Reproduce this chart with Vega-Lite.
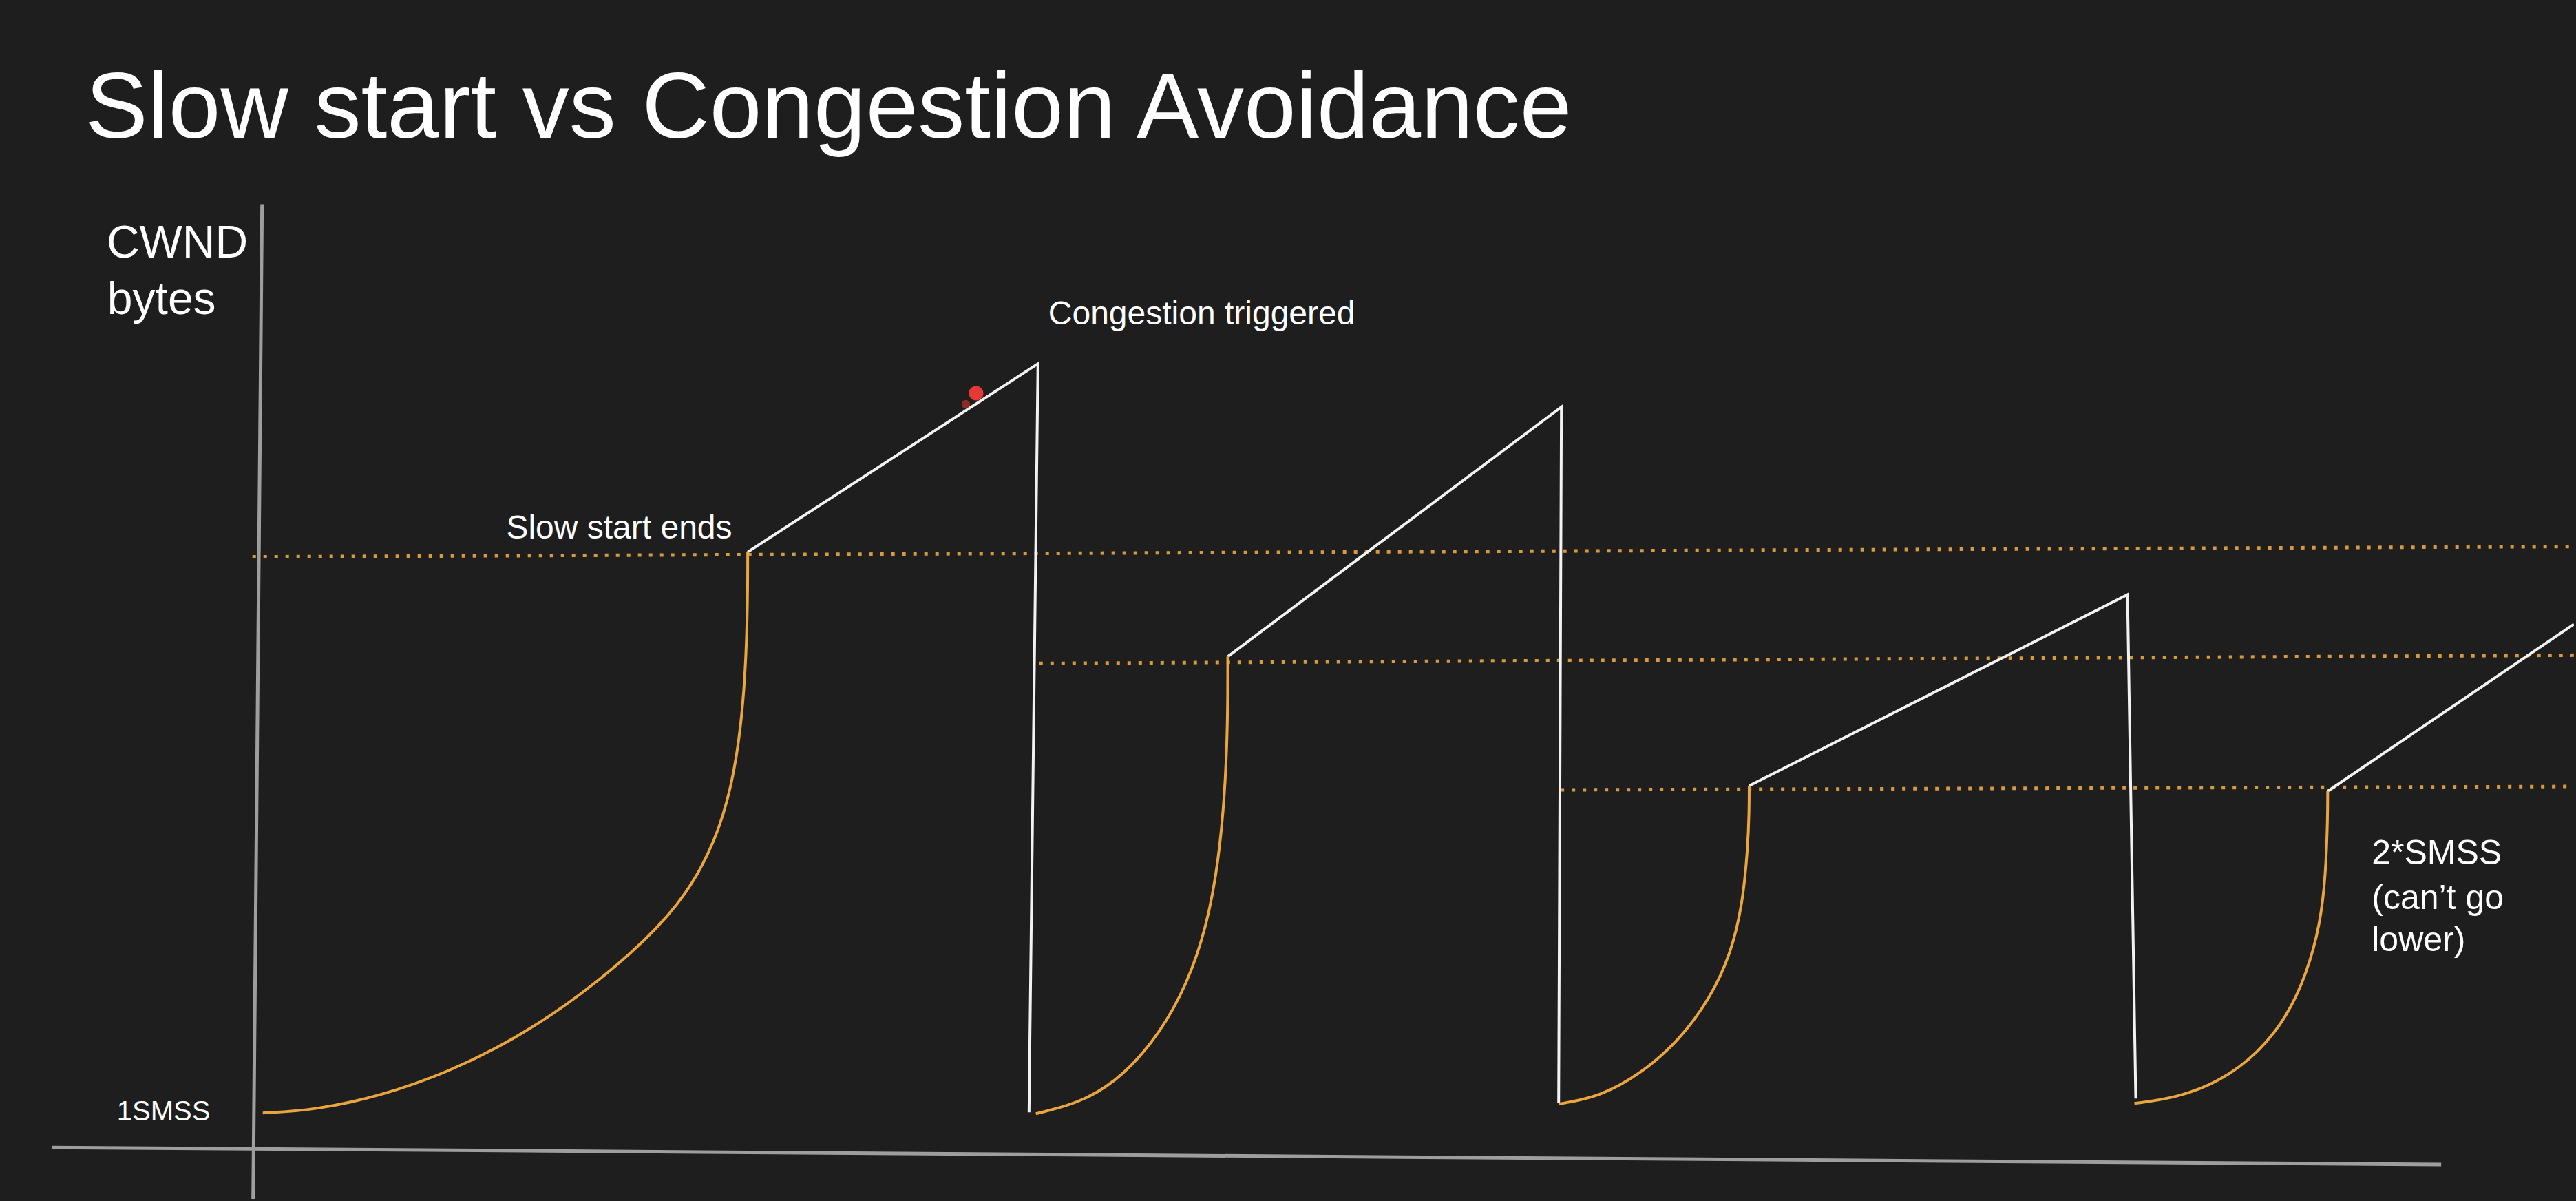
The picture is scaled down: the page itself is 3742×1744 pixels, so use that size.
{
  "$schema": "https://vega.github.io/schema/vega-lite/v6.json",
  "autosize": {"type": "fit", "contains": "padding"},
  "width": 3742,
  "height": 1744,
  "padding": 0,
  "background": "#1e1e1e",
  "config": {"view": {"stroke": null}},
  "datasets": {
    "axes": [
      {"axis": "y", "t": 381, "cwnd": 1447, "t2": 368, "cwnd2": 0},
      {"axis": "x", "t": 76, "cwnd": 75, "t2": 3549, "cwnd2": 50}
    ],
    "thresholds": [
      {"name": "ssthresh1", "t": 367, "cwnd": 934, "t2": 3742, "cwnd2": 949},
      {"name": "ssthresh2", "t": 1511, "cwnd": 779, "t2": 3742, "cwnd2": 791},
      {"name": "ssthresh3", "t": 2269, "cwnd": 595, "t2": 3742, "cwnd2": 600}
    ],
    "avoidance": [
      {"seg": "ca1", "i": 0, "t": 1087, "cwnd": 941},
      {"seg": "ca1", "i": 1, "t": 1509, "cwnd": 1215},
      {"seg": "ca1", "i": 2, "t": 1496, "cwnd": 126},
      {"seg": "ca2", "i": 0, "t": 1785, "cwnd": 789},
      {"seg": "ca2", "i": 1, "t": 2270, "cwnd": 1152},
      {"seg": "ca2", "i": 2, "t": 2266, "cwnd": 140},
      {"seg": "ca3", "i": 0, "t": 2543, "cwnd": 601},
      {"seg": "ca3", "i": 1, "t": 3093, "cwnd": 879},
      {"seg": "ca3", "i": 2, "t": 3105, "cwnd": 146},
      {"seg": "ca4", "i": 0, "t": 3384, "cwnd": 593},
      {"seg": "ca4", "i": 1, "t": 3742, "cwnd": 836}
    ],
    "slowstart": [
      {"seg": "ss1", "i": 0, "t": 382, "cwnd": 125},
      {"seg": "ss1", "i": 1, "t": 457, "cwnd": 129},
      {"seg": "ss1", "i": 2, "t": 554, "cwnd": 150},
      {"seg": "ss1", "i": 3, "t": 651, "cwnd": 184},
      {"seg": "ss1", "i": 4, "t": 748, "cwnd": 232},
      {"seg": "ss1", "i": 5, "t": 845, "cwnd": 296},
      {"seg": "ss1", "i": 6, "t": 942, "cwnd": 378},
      {"seg": "ss1", "i": 7, "t": 1000, "cwnd": 445},
      {"seg": "ss1", "i": 8, "t": 1040, "cwnd": 520},
      {"seg": "ss1", "i": 9, "t": 1064, "cwnd": 600},
      {"seg": "ss1", "i": 10, "t": 1078, "cwnd": 690},
      {"seg": "ss1", "i": 11, "t": 1085, "cwnd": 790},
      {"seg": "ss1", "i": 12, "t": 1087, "cwnd": 880},
      {"seg": "ss1", "i": 13, "t": 1087, "cwnd": 941},
      {"seg": "ss2", "i": 0, "t": 1506, "cwnd": 124},
      {"seg": "ss2", "i": 1, "t": 1567, "cwnd": 139},
      {"seg": "ss2", "i": 2, "t": 1621, "cwnd": 169},
      {"seg": "ss2", "i": 3, "t": 1674, "cwnd": 224},
      {"seg": "ss2", "i": 4, "t": 1717, "cwnd": 293},
      {"seg": "ss2", "i": 5, "t": 1749, "cwnd": 376},
      {"seg": "ss2", "i": 6, "t": 1768, "cwnd": 466},
      {"seg": "ss2", "i": 7, "t": 1779, "cwnd": 564},
      {"seg": "ss2", "i": 8, "t": 1784, "cwnd": 662},
      {"seg": "ss2", "i": 9, "t": 1785, "cwnd": 740},
      {"seg": "ss2", "i": 10, "t": 1785, "cwnd": 789},
      {"seg": "ss3", "i": 0, "t": 2266, "cwnd": 138},
      {"seg": "ss3", "i": 1, "t": 2326, "cwnd": 149},
      {"seg": "ss3", "i": 2, "t": 2384, "cwnd": 181},
      {"seg": "ss3", "i": 3, "t": 2441, "cwnd": 230},
      {"seg": "ss3", "i": 4, "t": 2487, "cwnd": 293},
      {"seg": "ss3", "i": 5, "t": 2516, "cwnd": 356},
      {"seg": "ss3", "i": 6, "t": 2533, "cwnd": 426},
      {"seg": "ss3", "i": 7, "t": 2541, "cwnd": 510},
      {"seg": "ss3", "i": 8, "t": 2543, "cwnd": 565},
      {"seg": "ss3", "i": 9, "t": 2543, "cwnd": 601},
      {"seg": "ss4", "i": 0, "t": 3103, "cwnd": 139},
      {"seg": "ss4", "i": 1, "t": 3164, "cwnd": 147},
      {"seg": "ss4", "i": 2, "t": 3228, "cwnd": 171},
      {"seg": "ss4", "i": 3, "t": 3283, "cwnd": 212},
      {"seg": "ss4", "i": 4, "t": 3325, "cwnd": 265},
      {"seg": "ss4", "i": 5, "t": 3354, "cwnd": 329},
      {"seg": "ss4", "i": 6, "t": 3373, "cwnd": 399},
      {"seg": "ss4", "i": 7, "t": 3381, "cwnd": 469},
      {"seg": "ss4", "i": 8, "t": 3384, "cwnd": 555},
      {"seg": "ss4", "i": 9, "t": 3384, "cwnd": 593}
    ],
    "pointer": [
      {"t": 1404, "cwnd": 1156, "part": "tail"},
      {"t": 1419, "cwnd": 1172, "part": "head"}
    ],
    "title": [
      {"label": "Slow start vs Congestion Avoidance", "t": 124, "cwnd": 1544}
    ],
    "ylabel": [
      {"label": "CWND", "t": 155, "cwnd": 1369},
      {"label": "bytes", "t": 156, "cwnd": 1287}
    ],
    "small": [
      {"label": "1SMSS", "t": 170, "cwnd": 114}
    ],
    "notes": [
      {"label": "Slow start ends", "t": 736, "cwnd": 961},
      {"label": "Congestion triggered", "t": 1524, "cwnd": 1272}
    ],
    "floor": [
      {"label": "2*SMSS", "t": 3448, "cwnd": 487},
      {"label": "(can’t go", "t": 3448, "cwnd": 422},
      {"label": "lower)", "t": 3448, "cwnd": 361}
    ]
  },
  "layer": [
    {
      "data": {"name": "axes"},
      "mark": {"type": "rule", "color": "#9e9e9e", "strokeWidth": 5},
      "encoding": {
        "x": {"field": "t", "type": "quantitative", "scale": {"domain": [0, 3742], "nice": false, "zero": false}, "axis": null},
        "y": {"field": "cwnd", "type": "quantitative", "scale": {"domain": [0, 1744], "nice": false, "zero": false}, "axis": null},
        "x2": {"field": "t2"},
        "y2": {"field": "cwnd2"}
      }
    },
    {
      "data": {"name": "thresholds"},
      "mark": {"type": "rule", "color": "#d99a3e", "strokeWidth": 5, "strokeDash": [5, 11]},
      "encoding": {
        "x": {"field": "t", "type": "quantitative", "scale": {"domain": [0, 3742], "nice": false, "zero": false}, "axis": null},
        "y": {"field": "cwnd", "type": "quantitative", "scale": {"domain": [0, 1744], "nice": false, "zero": false}, "axis": null},
        "x2": {"field": "t2"},
        "y2": {"field": "cwnd2"}
      }
    },
    {
      "data": {"name": "avoidance"},
      "mark": {"type": "line", "color": "#f2f2f2", "strokeWidth": 4, "clip": true},
      "encoding": {
        "x": {"field": "t", "type": "quantitative", "scale": {"domain": [0, 3742], "nice": false, "zero": false}, "axis": null},
        "y": {"field": "cwnd", "type": "quantitative", "scale": {"domain": [0, 1744], "nice": false, "zero": false}, "axis": null},
        "detail": {"field": "seg"},
        "order": {"field": "i", "type": "quantitative"}
      }
    },
    {
      "data": {"name": "slowstart"},
      "mark": {"type": "line", "color": "#eaa53f", "strokeWidth": 4, "interpolate": "basis"},
      "encoding": {
        "x": {"field": "t", "type": "quantitative", "scale": {"domain": [0, 3742], "nice": false, "zero": false}, "axis": null},
        "y": {"field": "cwnd", "type": "quantitative", "scale": {"domain": [0, 1744], "nice": false, "zero": false}, "axis": null},
        "detail": {"field": "seg"},
        "order": {"field": "i", "type": "quantitative"}
      }
    },
    {
      "data": {"name": "pointer"},
      "mark": {"type": "point", "filled": true, "color": "#e53935", "strokeWidth": 0},
      "encoding": {
        "x": {"field": "t", "type": "quantitative", "scale": {"domain": [0, 3742], "nice": false, "zero": false}, "axis": null},
        "y": {"field": "cwnd", "type": "quantitative", "scale": {"domain": [0, 1744], "nice": false, "zero": false}, "axis": null},
        "size": {"field": "part", "type": "nominal", "scale": {"domain": ["tail", "head"], "range": [150, 450]}, "legend": null},
        "opacity": {"field": "part", "type": "nominal", "scale": {"domain": ["tail", "head"], "range": [0.55, 1]}, "legend": null}
      }
    },
    {
      "data": {"name": "title"},
      "mark": {"type": "text", "color": "#ffffff", "font": "Liberation Sans", "fontSize": 136, "align": "left", "baseline": "alphabetic"},
      "encoding": {
        "x": {"field": "t", "type": "quantitative", "scale": {"domain": [0, 3742], "nice": false, "zero": false}, "axis": null},
        "y": {"field": "cwnd", "type": "quantitative", "scale": {"domain": [0, 1744], "nice": false, "zero": false}, "axis": null},
        "text": {"field": "label"}
      }
    },
    {
      "data": {"name": "ylabel"},
      "mark": {"type": "text", "color": "#ffffff", "font": "Liberation Sans", "fontSize": 66, "align": "left", "baseline": "alphabetic"},
      "encoding": {
        "x": {"field": "t", "type": "quantitative", "scale": {"domain": [0, 3742], "nice": false, "zero": false}, "axis": null},
        "y": {"field": "cwnd", "type": "quantitative", "scale": {"domain": [0, 1744], "nice": false, "zero": false}, "axis": null},
        "text": {"field": "label"}
      }
    },
    {
      "data": {"name": "small"},
      "mark": {"type": "text", "color": "#ffffff", "font": "Liberation Sans", "fontSize": 40, "align": "left", "baseline": "alphabetic"},
      "encoding": {
        "x": {"field": "t", "type": "quantitative", "scale": {"domain": [0, 3742], "nice": false, "zero": false}, "axis": null},
        "y": {"field": "cwnd", "type": "quantitative", "scale": {"domain": [0, 1744], "nice": false, "zero": false}, "axis": null},
        "text": {"field": "label"}
      }
    },
    {
      "data": {"name": "notes"},
      "mark": {"type": "text", "color": "#ffffff", "font": "Liberation Sans", "fontSize": 48, "align": "left", "baseline": "alphabetic"},
      "encoding": {
        "x": {"field": "t", "type": "quantitative", "scale": {"domain": [0, 3742], "nice": false, "zero": false}, "axis": null},
        "y": {"field": "cwnd", "type": "quantitative", "scale": {"domain": [0, 1744], "nice": false, "zero": false}, "axis": null},
        "text": {"field": "label"}
      }
    },
    {
      "data": {"name": "floor"},
      "mark": {"type": "text", "color": "#ffffff", "font": "Liberation Sans", "fontSize": 50, "align": "left", "baseline": "alphabetic"},
      "encoding": {
        "x": {"field": "t", "type": "quantitative", "scale": {"domain": [0, 3742], "nice": false, "zero": false}, "axis": null},
        "y": {"field": "cwnd", "type": "quantitative", "scale": {"domain": [0, 1744], "nice": false, "zero": false}, "axis": null},
        "text": {"field": "label"}
      }
    }
  ]
}
